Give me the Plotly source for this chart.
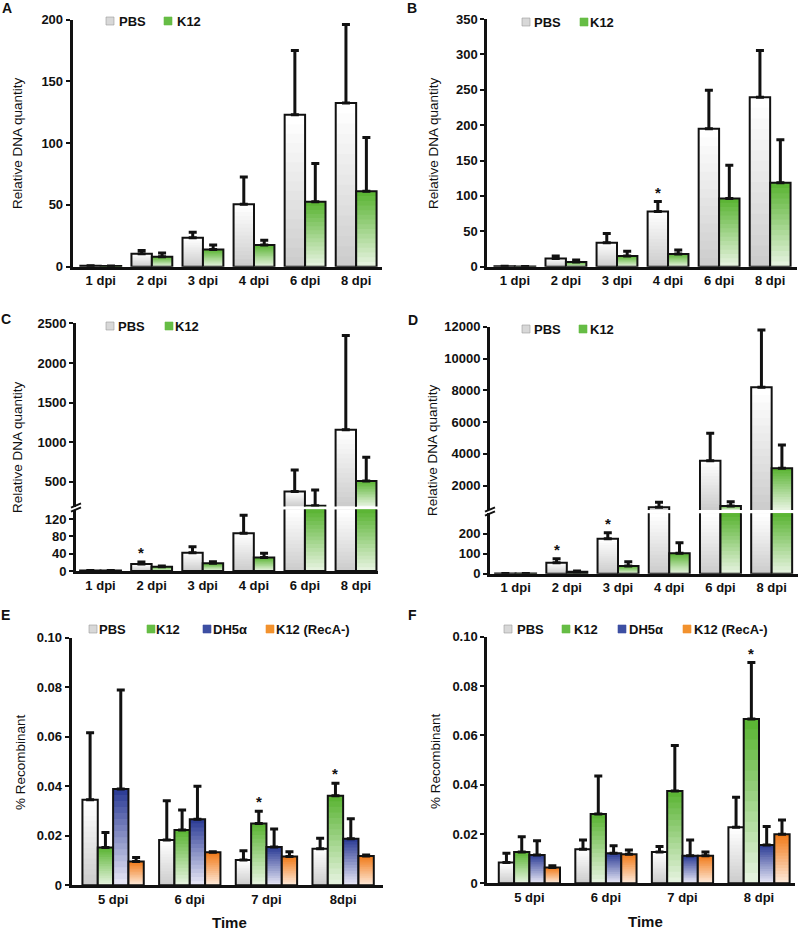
import plotly.graph_objects as go

W, H = 800, 930
FONT = "Liberation Sans, Arial, sans-serif"
INK = "#111111"

def fx(px):
    return px / W

def fy(py):
    return 1 - py / H

# ---------------- data ----------------
days_abcd = ["1 dpi", "2 dpi", "3 dpi", "4 dpi", "6 dpi", "8 dpi"]

A_pbs = [0.8, 10.5, 23.5, 50.5, 123.0, 132.5]
A_pbs_err = [0, 2.7, 4.3, 22.0, 52.0, 63.5]
A_k12 = [0.6, 8.0, 14.0, 17.5, 52.5, 61.0]
A_k12_err = [0, 3.0, 3.5, 3.8, 31.0, 43.5]

B_pbs = [0.5, 11.5, 34.0, 78.0, 195.0, 239.5]
B_pbs_err = [0, 3.5, 13.0, 14.0, 54.5, 66.0]
B_k12 = [0.4, 6.5, 15.0, 18.0, 96.5, 118.5]
B_k12_err = [0, 2.8, 7.0, 5.5, 47.0, 61.0]

C_pbs = [1.0, 16.0, 42.0, 87.0, 378.0, 1157.0]
C_pbs_err = [0, 5.0, 14.0, 42.0, 273.0, 1188.0]
C_k12 = [1.0, 10.0, 18.0, 31.0, 201.0, 513.0]
C_k12_err = [0, 1.5, 3.5, 10.0, 198.0, 299.0]

D_pbs = [1.0, 55.0, 175.0, 636.0, 3574.0, 8191.0]
D_pbs_err = [0, 20.0, 30.0, 315.0, 1721.0, 3609.0]
D_k12 = [1.0, 10.0, 38.0, 102.0, 720.0, 3091.0]
D_k12_err = [0, 3.0, 22.0, 53.0, 273.0, 1469.0]

days_e = ["5 dpi", "6 dpi", "7 dpi", "8dpi"]
E_pbs = [0.0346, 0.0183, 0.0102, 0.0148]
E_pbs_err = [0.0270, 0.0158, 0.0038, 0.0042]
E_k12 = [0.0153, 0.0223, 0.0250, 0.0362]
E_k12_err = [0.0060, 0.0081, 0.0049, 0.0050]
E_dh5a = [0.0389, 0.0267, 0.0155, 0.0188]
E_dh5a_err = [0.0400, 0.0133, 0.0072, 0.0081]
E_reca = [0.0096, 0.0133, 0.0116, 0.0118]
E_reca_err = [0.0016, 0.0003, 0.0019, 0.0004]

days_f = ["5 dpi", "6 dpi", "7 dpi", "8 dpi"]
F_pbs = [0.0084, 0.0138, 0.0127, 0.0227]
F_pbs_err = [0.0038, 0.0038, 0.0022, 0.0122]
F_k12 = [0.0127, 0.0281, 0.0374, 0.0666]
F_k12_err = [0.0062, 0.0154, 0.0185, 0.0229]
F_dh5a = [0.0115, 0.0122, 0.0112, 0.0155]
F_dh5a_err = [0.0058, 0.0030, 0.0064, 0.0075]
F_reca = [0.0064, 0.0118, 0.0112, 0.0199]
F_reca_err = [0.0007, 0.0017, 0.0015, 0.0058]

ticks_A = [0, 50, 100, 150, 200]
ticks_B = [0, 50, 100, 150, 200, 250, 300, 350]
ticks_C_lo = [0, 40, 80, 120]
ticks_C_hi = [500, 1000, 1500, 2000, 2500]
ticks_D_lo = [0, 100, 200]
ticks_D_hi = [2000, 4000, 6000, 8000, 10000, 12000]
ticks_EF = [0, 0.02, 0.04, 0.06, 0.08, 0.10]
ticks_EF_text = ["0", "0.02", "0.04", "0.06", "0.08", "0.10"]

# ---------------- styling ----------------
COL = {  # (top colour, bottom colour) of the vertical gradient
    "PBS": ("#ffffff", "#cdcdcd"),
    "K12": ("#5cb535", "#e4f2dd"),
    "DH5α": ("#2e3e96", "#e4e4f4"),
    "K12 (RecA-)": ("#f07b1b", "#fee8d7"),
}
LEG = {"PBS": "#d8d8d8", "K12": "#66bd45", "DH5α": "#3d4fa3", "K12 (RecA-)": "#f2922e"}
NSLICE = 16


def h2r(h):
    h = h.lstrip("#")
    return [int(h[i:i + 2], 16) for i in (0, 2, 4)]


def interp(c1, c2, t):
    a, b = h2r(c1), h2r(c2)
    return "rgb(%d,%d,%d)" % tuple(round(a[i] + (b[i] - a[i]) * t) for i in range(3))


fig = go.Figure()


def add_series(xa, ya, cats, vals, errs, key, grp, lo=0.0, hi=None, kind="normal"):
    top_c, bot_c = COL[key]
    tops = []
    for v in vals:
        if v <= lo:
            tops.append(None)
        else:
            tops.append(min(v, hi) if hi is not None else v)
    for k in range(NSLICE):
        bases = [None if t is None else lo + (t - lo) * k / NSLICE for t in tops]
        lens = [None if t is None else t - b for t, b in zip(tops, bases)]
        col = interp(bot_c, top_c, k / (NSLICE - 1))
        fig.add_trace(go.Bar(x=cats, y=lens, base=bases, xaxis=xa, yaxis=ya,
                             offsetgroup=grp, marker=dict(color=col, line=dict(width=0)),
                             hoverinfo="skip", showlegend=False))
    oy, oe = [], []
    for v, e in zip(vals, errs):
        if kind == "upper" and v <= lo:
            oy.append(None); oe.append(0)
        elif kind == "lower" and v > hi:
            oy.append(v); oe.append(0)
        else:
            oy.append(v); oe.append(e)
    fig.add_trace(go.Bar(x=cats, y=oy, xaxis=xa, yaxis=ya, offsetgroup=grp,
                         marker=dict(color="rgba(0,0,0,0)", line=dict(color=INK, width=2)),
                         error_y=dict(type="data", symmetric=False, array=oe,
                                      arrayminus=[0] * len(oe), color=INK,
                                      thickness=3, width=4),
                         hoverinfo="skip", showlegend=False))


# A
add_series("x", "y", days_abcd, A_pbs, A_pbs_err, "PBS", "pbs", hi=200)
add_series("x", "y", days_abcd, A_k12, A_k12_err, "K12", "k12", hi=200)
# B
add_series("x2", "y2", days_abcd, B_pbs, B_pbs_err, "PBS", "pbs", hi=350)
add_series("x2", "y2", days_abcd, B_k12, B_k12_err, "K12", "k12", hi=350)
# C (broken axis)
C_lo = (0, 142)
C_hi = (190, 2500)
add_series("x3", "y3", days_abcd, C_pbs, C_pbs_err, "PBS", "pbs", lo=C_lo[0], hi=C_lo[1], kind="lower")
add_series("x3", "y3", days_abcd, C_k12, C_k12_err, "K12", "k12", lo=C_lo[0], hi=C_lo[1], kind="lower")
add_series("x3", "y4", days_abcd, C_pbs, C_pbs_err, "PBS", "pbs", lo=C_hi[0], hi=C_hi[1], kind="upper")
add_series("x3", "y4", days_abcd, C_k12, C_k12_err, "K12", "k12", lo=C_hi[0], hi=C_hi[1], kind="upper")
# D (broken axis)
D_lo = (0, 302)
D_hi = (470, 12000)
add_series("x4", "y5", days_abcd, D_pbs, D_pbs_err, "PBS", "pbs", lo=D_lo[0], hi=D_lo[1], kind="lower")
add_series("x4", "y5", days_abcd, D_k12, D_k12_err, "K12", "k12", lo=D_lo[0], hi=D_lo[1], kind="lower")
add_series("x4", "y6", days_abcd, D_pbs, D_pbs_err, "PBS", "pbs", lo=D_hi[0], hi=D_hi[1], kind="upper")
add_series("x4", "y6", days_abcd, D_k12, D_k12_err, "K12", "k12", lo=D_hi[0], hi=D_hi[1], kind="upper")
# E
for vals, errs, key, g in [(E_pbs, E_pbs_err, "PBS", "a"), (E_k12, E_k12_err, "K12", "b"),
                           (E_dh5a, E_dh5a_err, "DH5α", "c"), (E_reca, E_reca_err, "K12 (RecA-)", "d")]:
    add_series("x5", "y7", days_e, vals, errs, key, g, hi=0.1)
# F
for vals, errs, key, g in [(F_pbs, F_pbs_err, "PBS", "a"), (F_k12, F_k12_err, "K12", "b"),
                           (F_dh5a, F_dh5a_err, "DH5α", "c"), (F_reca, F_reca_err, "K12 (RecA-)", "d")]:
    add_series("x6", "y8", days_f, vals, errs, key, g, hi=0.1)

# ---------------- axes ----------------
tickfont = dict(family=FONT, size=13, color=INK, weight="bold")


def xax(l, r, rng, anchor):
    return dict(domain=[fx(l), fx(r)], range=rng, anchor=anchor, type="category",
                showline=True, linewidth=3, linecolor=INK, ticks="", showgrid=False,
                zeroline=False, tickfont=tickfont, fixedrange=True, automargin=False)


def yax(bot, top, rng, tv, tt, anchor):
    return dict(domain=[fy(bot), fy(top)], range=rng, anchor=anchor,
                showline=True, linewidth=3, linecolor=INK, ticks="outside", ticklen=4,
                tickwidth=2, tickcolor=INK, tickvals=tv, ticktext=tt, showgrid=False,
                zeroline=False, tickfont=tickfont, fixedrange=True, automargin=False)


def tt(v):
    return [str(x) for x in v]


fig.update_layout(
    template="none",
    xaxis=xax(72.7, 381.7, [-0.55, 5.5], "y"),
    yaxis=yax(266.7, 19.5, [0, 200], ticks_A, tt(ticks_A), "x"),
    xaxis2=xax(487.3, 796.7, [-0.54, 5.52], "y2"),
    yaxis2=yax(266.7, 19.0, [0, 350], ticks_B, tt(ticks_B), "x2"),
    xaxis3=xax(76, 378, [-0.48, 5.43], "y3"),
    yaxis3=yax(571, 509.5, list(C_lo), ticks_C_lo, tt(ticks_C_lo), "x3"),
    yaxis4=yax(506.5, 323.3, list(C_hi), ticks_C_hi, tt(ticks_C_hi), "x3"),
    xaxis4=xax(490, 798.3, [-0.5, 5.52], "y5"),
    yaxis5=yax(573.7, 513.3, list(D_lo), ticks_D_lo, tt(ticks_D_lo), "x4"),
    yaxis6=yax(510, 326.7, list(D_hi), ticks_D_hi, tt(ticks_D_hi), "x4"),
    xaxis5=xax(71.7, 383, [-0.54, 3.52], "y7"),
    yaxis7=yax(885.3, 637.7, [0, 0.1], ticks_EF, ticks_EF_text, "x5"),
    xaxis6=xax(487.3, 795, [-0.55, 3.47], "y8"),
    yaxis8=yax(883.3, 636.7, [0, 0.1], ticks_EF, ticks_EF_text, "x6"),
)

# ---------------- annotations / decorations ----------------
ann = []
shapes = []


def text(px, py, s, size=13, bold=True, angle=0, xanchor="center", yanchor="middle"):
    ann.append(dict(x=fx(px), y=fy(py), xref="paper", yref="paper", text=s, showarrow=False,
                    textangle=angle, xanchor=xanchor, yanchor=yanchor,
                    font=dict(family=FONT, size=size, color=INK,
                              weight="bold" if bold else "normal")))


# panel letters
for s, px, py in [("A", 7, 8), ("B", 412, 8), ("C", 6, 319), ("D", 413, 320), ("E", 5, 615), ("F", 412, 615)]:
    text(px, py, s, size=14)

# y titles
for px, py, s in [(17, 143, "Relative DNA quantity"), (433, 143, "Relative DNA quantity"),
                  (17, 447, "Relative DNA quantity"), (432, 450, "Relative DNA quantity"),
                  (20, 762, "% Recombinant"), (435, 761, "% Recombinant")]:
    text(px, py, s, size=13.5, bold=False, angle=-90)
text(230, 922, "Time", size=15)
text(645, 921, "Time", size=15)

# legends
def legend(items, py):
    for key, sq, tx in items:
        shapes.append(dict(type="rect", xref="paper", yref="paper",
                           x0=fx(sq), x1=fx(sq + 8), y0=fy(py + 4), y1=fy(py - 4),
                           fillcolor=LEG[key], line=dict(color="#9a9a9a" if key == "PBS" else LEG[key], width=0.6)))
        text(tx, py, key, xanchor="left")


legend([("PBS", 106, 117), ("K12", 164, 175)], 21)
legend([("PBS", 522, 532), ("K12", 580, 588)], 22)
legend([("PBS", 106, 116), ("K12", 165, 173)], 326)
legend([("PBS", 522, 532), ("K12", 579, 588)], 329)
legend([("PBS", 89, 97), ("K12", 147, 154), ("DH5α", 203, 211), ("K12 (RecA-)", 266, 274)], 629)
legend([("PBS", 504, 515), ("K12", 562, 572), ("DH5α", 618, 627), ("K12 (RecA-)", 683, 692)], 629)

# axis break marks
for sx, sy in [(76, 505.5), (76, 509.5), (490, 509.5), (490, 513.5)]:
    shapes.append(dict(type="line", xref="paper", yref="paper",
                       x0=fx(sx - 5), y0=fy(sy + 2.2), x1=fx(sx + 5), y1=fy(sy - 2.2),
                       line=dict(color=INK, width=2)))

# significance stars: (xaxis, yaxis, category index, series index, n series, value, err)
stars = [
    ("x2", "y2", 3, 0, 2, B_pbs[3], B_pbs_err[3]),
    ("x3", "y3", 1, 0, 2, C_pbs[1], C_pbs_err[1]),
    ("x4", "y5", 1, 0, 2, D_pbs[1], D_pbs_err[1]),
    ("x4", "y5", 2, 0, 2, D_pbs[2], D_pbs_err[2]),
    ("x5", "y7", 2, 1, 4, E_k12[2], E_k12_err[2]),
    ("x5", "y7", 3, 1, 4, E_k12[3], E_k12_err[3]),
    ("x6", "y8", 3, 1, 4, F_k12[3], F_k12_err[3]),
]
for xa, ya, ci, si, n, v, e in stars:
    off = (si - (n - 1) / 2) * 0.8 / n
    ann.append(dict(x=ci + off, y=v + e, xref=xa, yref=ya, text="*", showarrow=False,
                    yanchor="bottom", yshift=-1,
                    font=dict(family=FONT, size=15, color=INK, weight="bold")))

fig.update_layout(
    width=W, height=H, margin=dict(l=0, r=0, t=0, b=0, pad=0, autoexpand=False),
    paper_bgcolor="white", plot_bgcolor="white",
    barmode="group", bargap=0.2, bargroupgap=0, showlegend=False,
    annotations=ann, shapes=shapes,
)

fig.write_html("out.html",
               config={"displayModeBar": False, "staticPlot": True},
               post_script="document.body.style.margin='0';document.body.style.padding='0';"
                           "document.documentElement.style.overflow='hidden';")
